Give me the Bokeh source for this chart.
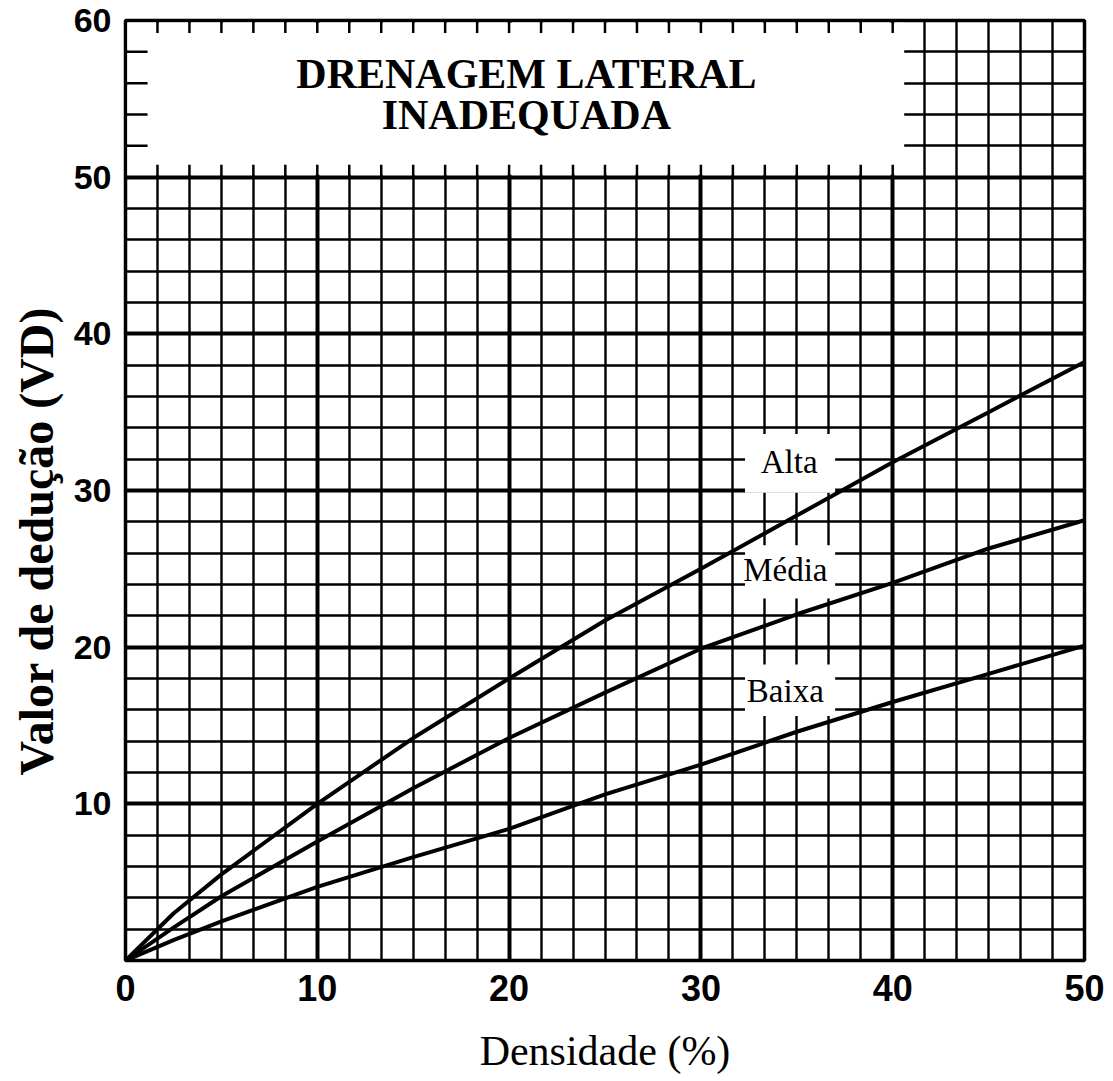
from bokeh.plotting import figure
from bokeh.models import FixedTicker, Title
from bokeh.core.properties import value
from bokeh.embed import file_html
from bokeh.resources import INLINE

# ---- data ----
densidade = [0, 2.5, 5, 10, 15, 20, 25, 30, 35, 40, 45, 50]
alta = [0, 3.0, 5.5, 10.0, 14.2, 18.0, 21.7, 25.0, 28.4, 31.8, 35.0, 38.2]
media = [0, 2.1, 4.1, 7.6, 11.0, 14.2, 17.1, 19.9, 22.1, 24.1, 26.3, 28.1]
baixa = [0, 1.3, 2.5, 4.7, 6.6, 8.4, 10.6, 12.5, 14.6, 16.5, 18.3, 20.1]

curve_names = ["Alta", "Média", "Baixa"]
x_ticks = [0, 10, 20, 30, 40, 50]
y_ticks = [10, 20, 30, 40, 50, 60]
title_lines = ["DRENAGEM LATERAL", "INADEQUADA"]
x_title = "Densidade (%)"
y_title = "Valor de dedução (VD)"

x_minor = [round(i * 10 / 6, 4) for i in range(31) if i % 6 != 0]
y_minor = [i for i in range(0, 61, 2) if i % 10 != 0]

p = figure(width=1100, height=1072, frame_width=959, frame_height=940,
           x_range=(0, 50), y_range=(0, 60),
           output_backend="svg", toolbar_location=None,
           min_border_left=120, min_border_right=21, min_border_top=20, min_border_bottom=100)
p.background_fill_color = "white"
p.border_fill_color = "white"
p.outline_line_color = "black"
p.outline_line_width = 3.5

p.xaxis.ticker = FixedTicker(ticks=x_ticks, minor_ticks=x_minor)
p.yaxis.ticker = FixedTicker(ticks=y_ticks, minor_ticks=y_minor)
p.xgrid.ticker = FixedTicker(ticks=x_ticks, minor_ticks=x_minor)
p.ygrid.ticker = FixedTicker(ticks=[0] + y_ticks, minor_ticks=y_minor)

for g in (p.xgrid, p.ygrid):
    g.grid_line_color = "black"
    g.grid_line_width = 4
    g.grid_line_alpha = 1
    g.minor_grid_line_color = "black"
    g.minor_grid_line_width = 2.4

for ax in (p.xaxis, p.yaxis):
    ax.axis_line_color = None
    ax.major_tick_line_color = None
    ax.minor_tick_line_color = None
    ax.major_label_text_font = "Liberation Sans"
    ax.major_label_text_font_style = "bold"
    ax.major_label_text_color = "black"
    ax.axis_label_text_color = "black"
    ax.axis_label_text_font = "Liberation Serif"

p.xaxis.major_label_text_font_size = "36px"
p.yaxis.major_label_text_font_size = "34px"
p.xaxis.major_label_standoff = 8
p.yaxis.major_label_standoff = 8

p.xaxis.axis_label = x_title
p.xaxis.axis_label_text_font_size = "42px"
p.xaxis.axis_label_text_font_style = "normal"
p.xaxis.axis_label_standoff = 24

# y title: a side title, starting ~185 px above the frame bottom as in the reference
p.add_layout(Title(text=y_title, align="left", offset=185,
                   text_font="Liberation Serif", text_font_style="bold",
                   text_font_size="48px", text_color="black", standoff=15), "left")

# ---- white title panel at the top (covers grid between 50 and 60) ----
panel_right = 40.6
p.quad(left=[0.1], right=[panel_right], bottom=[50.15], top=[59.85],
       fill_color="white", line_color=None)
top_tick_x = [x for x in x_minor + x_ticks if 0 < x < panel_right]
p.segment(x0=top_tick_x, y0=[60] * len(top_tick_x), x1=top_tick_x, y1=[59.2] * len(top_tick_x),
          line_color="black", line_width=2.5)
p.segment(x0=top_tick_x, y0=[50] * len(top_tick_x), x1=top_tick_x, y1=[50.8] * len(top_tick_x),
          line_color="black", line_width=2.5)
left_tick_y = [y for y in y_minor if y > 50]
p.segment(x0=[0] * len(left_tick_y), y0=left_tick_y, x1=[1.15] * len(left_tick_y), y1=left_tick_y,
          line_color="black", line_width=2.5)

for txt, yy in zip(title_lines, [56.6, 54.0]):
    p.text(x=[20.9], y=[yy], text=[txt], text_font=value("Liberation Serif"),
           text_font_style="bold", text_font_size="42px", text_align="center",
           text_baseline="middle", text_color="black")

# ---- white boxes behind curve labels ----
label_x = [34.6, 34.4, 34.4]
label_y = [31.8, 24.9, 17.2]
box_bottom = [29.85, 23.1, 15.6]
box_top = [33.6, 26.5, 18.9]
p.quad(left=[32.3] * 3, right=[37.0] * 3, bottom=box_bottom, top=box_top,
       fill_color="white", line_color=None)
p.text(x=label_x, y=label_y, text=curve_names, text_font=value("Liberation Serif"),
       text_font_size="33px", text_align="center", text_baseline="middle", text_color="black")

# ---- curves ----
for ys in (alta, media, baixa):
    p.line(densidade, ys, line_color="black", line_width=4)

open("out.html", "w").write(file_html(p, INLINE))
